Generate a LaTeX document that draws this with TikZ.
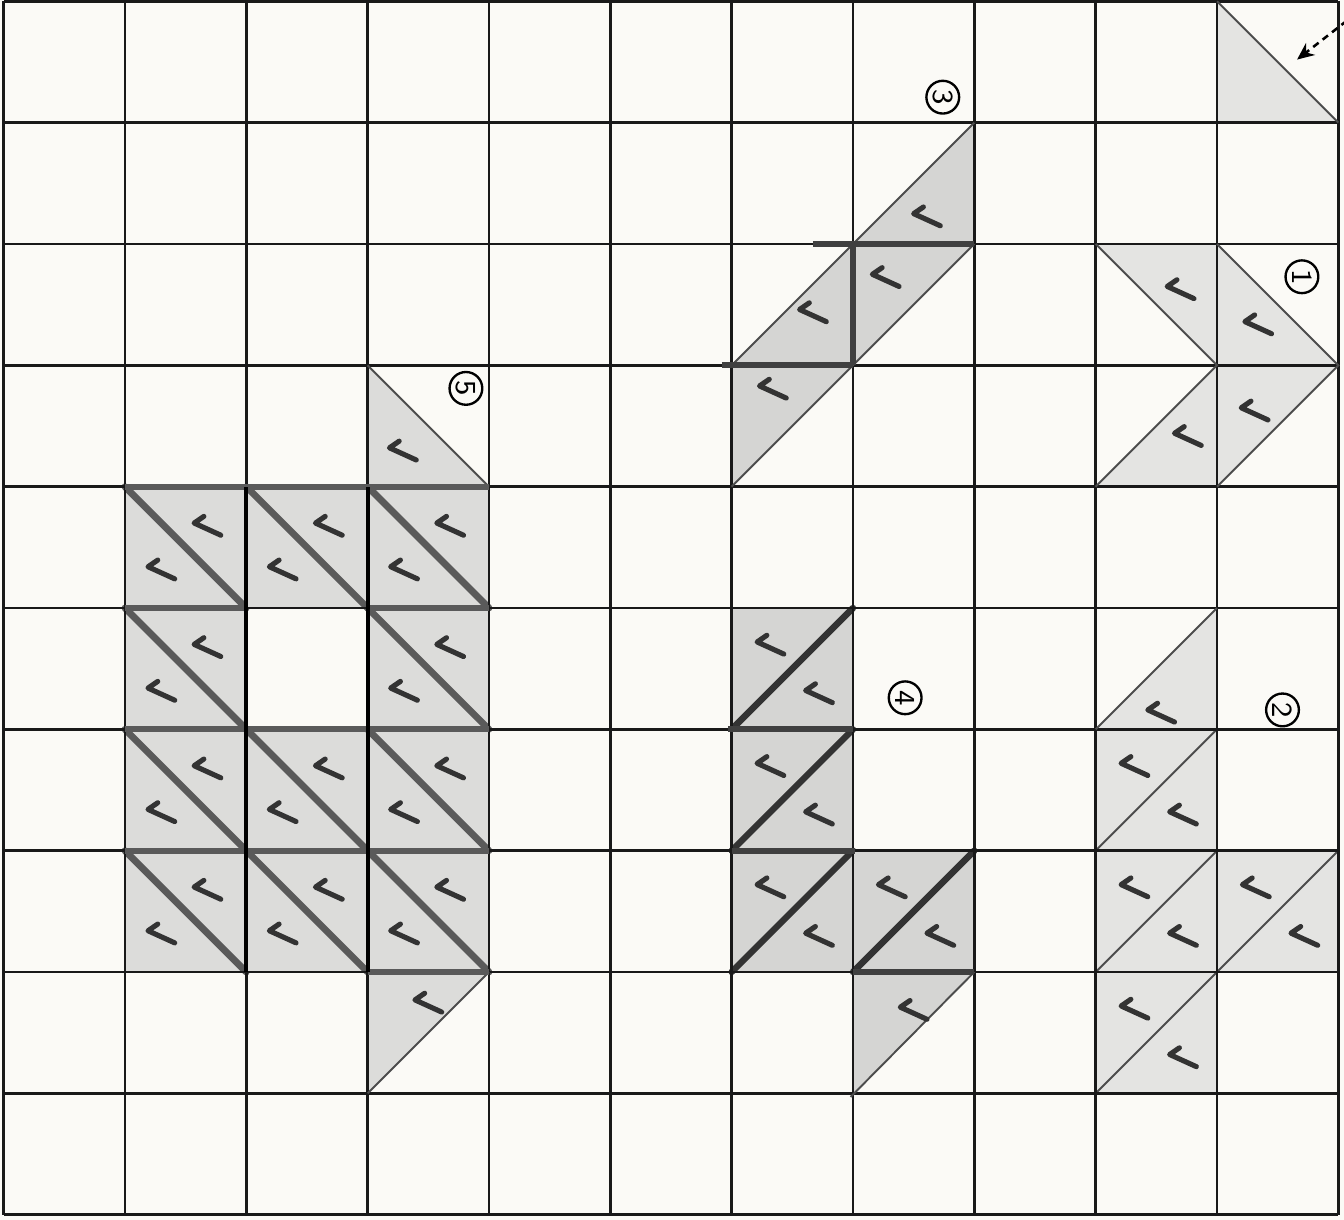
\documentclass[tikz,border=0pt]{standalone}
\usepackage{tikz}
\usetikzlibrary{arrows.meta}
\usepackage{xcolor}
\definecolor{paper}{HTML}{FBFAF6}
\definecolor{shadelight}{HTML}{E4E4E2}
\definecolor{shademid}{HTML}{DCDCDA}
\definecolor{shadedark}{HTML}{D5D5D3}
\definecolor{pencil}{HTML}{5A5A5A}

% one check mark, centred at #1
\newcommand{\markchk}[1]{\draw[chk, shift={#1}] (-0.03,0.075) -- (-0.11,0.02) -- (0.11,-0.08);}
% full square, diagonal top-left to bottom-right
\newcommand{\dncell}[4]{%
  \fill[#3] (#1,#2) rectangle ++(1,1);
  \draw[#4] (#1,#2+1) -- ++(1,-1);
  \markchk{(#1+0.68,#2+0.68)}\markchk{(#1+0.3,#2+0.32)}}
% full square, diagonal bottom-left to top-right
\newcommand{\upcell}[4]{%
  \fill[#3] (#1,#2) rectangle ++(1,1);
  \draw[#4] (#1,#2) -- ++(1,1);
  \markchk{(#1+0.32,#2+0.7)}\markchk{(#1+0.72,#2+0.3)}}

\begin{document}
\begin{tikzpicture}[x=1cm, y=1cm,
  chk/.style={line width=1.2pt, line cap=round, line join=round, black!80},
  thindiag/.style={line width=0.45pt, black!70},
  pencildiag/.style={line width=1.6pt, pencil, line cap=round},
  inkdiag/.style={line width=1.5pt, black!80, line cap=round},
  heavy/.style={line width=1.4pt, black!75},
  gridline/.style={line width=0.6pt, black!90},
  numlabel/.style={draw, circle, inner sep=0pt, minimum size=0.27cm, line width=0.55pt,
    font=\sffamily\fontsize{6.8}{7}\selectfont, rotate=-90}]
  \useasboundingbox (-0.03,-0.041) rectangle (11.047,10.011);
  \fill[paper] (-0.03,-0.041) rectangle (11.047,10.011);

  % corner triangle
  \fill[shadelight] (10,10) -- (10,9) -- (11,9) -- cycle;

  % figure 3
  \fill[shadedark] (6,6) -- (6,7) -- (8,9) -- (8,8) -- cycle;

  % figure 1
  \fill[shadelight] (9,8) -- (10,8) -- (11,7) -- (10,6) -- (9,6) -- (10,7) -- cycle;

  % figure 5
  \fill[shademid] (3,7) -- (3,6) -- (4,6) -- cycle;
  \fill[shademid] (3,2) -- (4,2) -- (3,1) -- cycle;
  \dncell{1}{5}{shademid}{pencildiag}
  \dncell{2}{5}{shademid}{pencildiag}
  \dncell{3}{5}{shademid}{pencildiag}
  \dncell{1}{4}{shademid}{pencildiag}
  \dncell{3}{4}{shademid}{pencildiag}
  \dncell{1}{3}{shademid}{pencildiag}
  \dncell{2}{3}{shademid}{pencildiag}
  \dncell{3}{3}{shademid}{pencildiag}
  \dncell{1}{2}{shademid}{pencildiag}
  \dncell{2}{2}{shademid}{pencildiag}
  \dncell{3}{2}{shademid}{pencildiag}

  % figure 4
  \fill[shadedark] (7,2) -- (8,2) -- (7,1) -- cycle;
  \upcell{6}{4}{shadedark}{inkdiag}
  \upcell{6}{3}{shadedark}{inkdiag}
  \upcell{6}{2}{shadedark}{inkdiag}
  \upcell{7}{2}{shadedark}{inkdiag}

  % figure 2
  \fill[shadelight] (9,4) -- (10,5) -- (10,4) -- cycle;
  \upcell{9}{3}{shadelight}{thindiag}
  \upcell{9}{2}{shadelight}{thindiag}
  \upcell{10}{2}{shadelight}{thindiag}
  \upcell{9}{1}{shadelight}{thindiag}

  \draw[gridline] (0,0) grid (11,10);

  % thin edges
  \draw[thindiag] (10,10) -- (11,9);
  \draw[thindiag] (6,7) -- (8,9) (6,6) -- (8,8);
  \draw[thindiag] (9,8) -- (10,7) -- (9,6) (10,8) -- (11,7) -- (10,6);
  \draw[thindiag] (3,7) -- (4,6) (4,2) -- (3,1);
  \draw[thindiag] (8,2) -- (6.98,0.97);
  \draw[thindiag] (9,4) -- (10,5);

  % heavy joins
  \draw[heavy] (6.67,8) -- (8,8) (5.92,7) -- (7,7) (7,7) -- (7,8);
  \draw[heavy, pencil] (1,6) -- (4,6) (1,5) -- (2,5) (3,5) -- (4,5)
    (1,4) -- (4,4) (1,3) -- (4,3) (3,2) -- (4,2);
  \draw[line width=0.9pt] (2,2) -- (2,6) (3,2) -- (3,6);
  \draw[heavy] (5.97,4) -- (7,4) (6,3) -- (7.02,3) (7,2) -- (8,2);

  % single checks
  \markchk{(7.61,8.23)} \markchk{(7.27,7.73)} \markchk{(6.67,7.44)} \markchk{(6.34,6.81)}
  \markchk{(9.70,7.63)} \markchk{(10.34,7.34)} \markchk{(10.31,6.63)} \markchk{(9.76,6.42)}
  \markchk{(3.29,6.30)} \markchk{(3.50,1.75)}
  \markchk{(7.50,1.69)}
  \markchk{(9.54,4.14)}

  % labels
  \node[numlabel] (lbl1) at (10.70,7.73) {1};
  \node[numlabel] (lbl2) at (10.54,4.16) {2};
  \node[numlabel] (lbl3) at (7.74,9.21) {3};
  \node[numlabel] (lbl4) at (7.43,4.26) {4};
  \node[numlabel] (lbl5) at (3.81,6.81) {5};

  % pointer
  \coordinate (ptrtail) at (11.07,9.84);
  \coordinate (ptrhead) at (10.66,9.52);
  \draw[line width=0.6pt, dash pattern=on 1.6pt off 1.2pt, -{Stealth[length=4pt,width=3.5pt]}]
    (ptrtail) -- (ptrhead);
\end{tikzpicture}
\end{document}
